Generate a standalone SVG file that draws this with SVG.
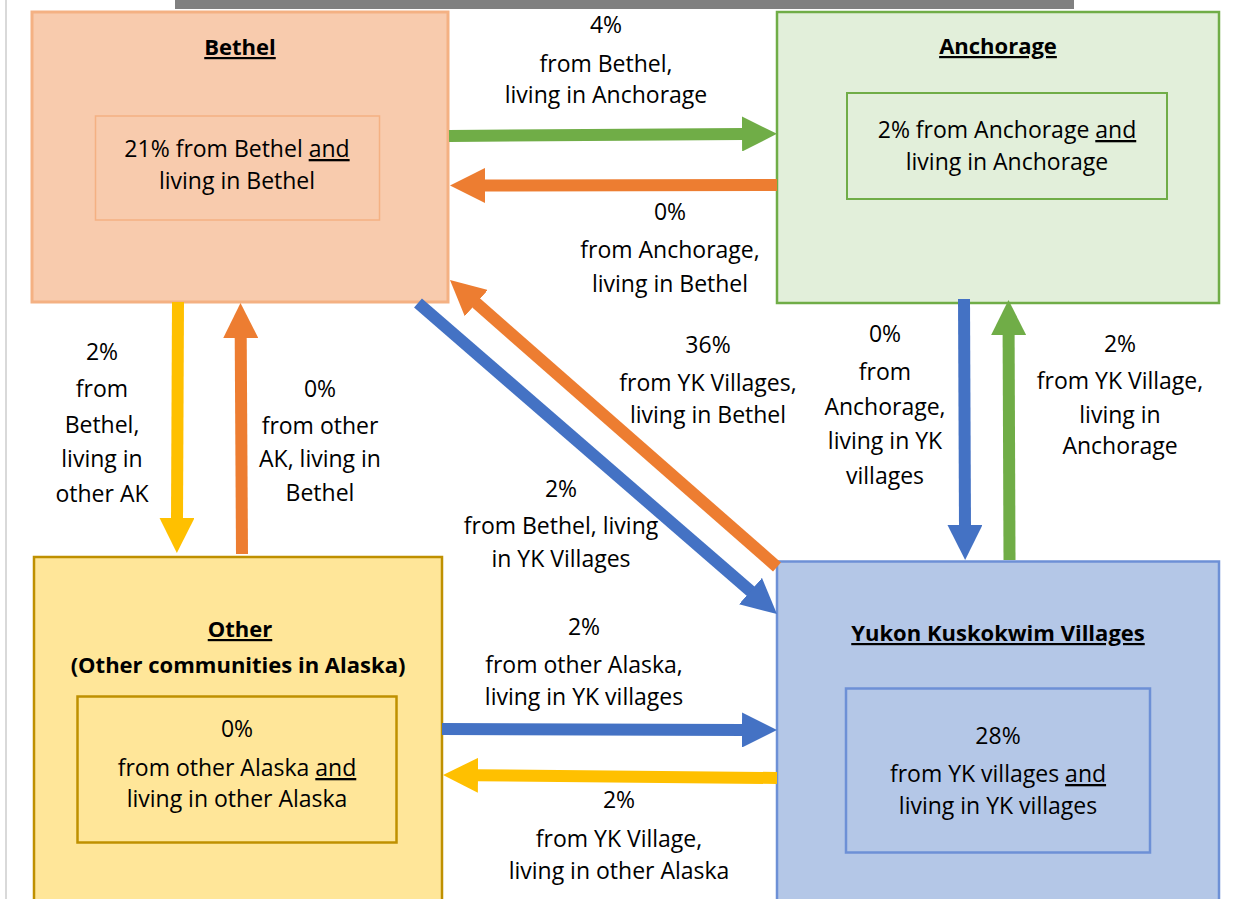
<svg xmlns="http://www.w3.org/2000/svg" width="1243" height="899" viewBox="0 0 1243 899">
<style>
text{font-family:"Open Sans","Noto Sans",sans-serif;font-size:23px;fill:#000;text-anchor:middle}
.t{font-weight:bold;font-size:22px}
.u{text-decoration:underline}
.c{fill:none;stroke-width:12}
</style>
<defs>
<marker id="hg" markerUnits="userSpaceOnUse" markerWidth="35" markerHeight="35" refX="2" refY="17.5" orient="auto" viewBox="0 0 35 35"><path d="M0,0 L35,17.5 L0,35 z" fill="#70ad47"/></marker>
<marker id="ho" markerUnits="userSpaceOnUse" markerWidth="35" markerHeight="35" refX="2" refY="17.5" orient="auto" viewBox="0 0 35 35"><path d="M0,0 L35,17.5 L0,35 z" fill="#ed7d31"/></marker>
<marker id="hb" markerUnits="userSpaceOnUse" markerWidth="35" markerHeight="35" refX="2" refY="17.5" orient="auto" viewBox="0 0 35 35"><path d="M0,0 L35,17.5 L0,35 z" fill="#4472c4"/></marker>
<marker id="hy" markerUnits="userSpaceOnUse" markerWidth="35" markerHeight="35" refX="2" refY="17.5" orient="auto" viewBox="0 0 35 35"><path d="M0,0 L35,17.5 L0,35 z" fill="#ffc000"/></marker>
</defs>
<rect width="1243" height="899" fill="#fff"/>
<line x1="6" y1="0" x2="6" y2="899" stroke="#d9d9d9" stroke-width="2"/>
<rect x="175" y="0" width="899" height="9" fill="#808080"/>

<g id="bethel">
<rect x="32" y="12" width="416" height="290" fill="#f8cbad" stroke="#f4b183" stroke-width="3"/>
<rect x="95.5" y="116" width="284" height="104" fill="none" stroke="#f4b183" stroke-width="1.5"/>
<text class="t u" x="240" y="55">Bethel</text>
<text x="237" y="157">21% from Bethel <tspan class="u">and</tspan></text>
<text x="237" y="189">living in Bethel</text>
</g>

<g id="anchorage">
<rect x="777" y="12" width="442" height="291" fill="#e2efda" stroke="#70ad47" stroke-width="2.5"/>
<rect x="847" y="93" width="320" height="106" fill="none" stroke="#70ad47" stroke-width="2"/>
<text class="t u" x="998" y="54">Anchorage</text>
<text x="1007" y="138">2% from Anchorage <tspan class="u">and</tspan></text>
<text x="1007" y="170">living in Anchorage</text>
</g>

<g id="other">
<rect x="34" y="557" width="408" height="350" fill="#ffe699" stroke="#bf9000" stroke-width="2.5"/>
<rect x="77.5" y="696.5" width="319" height="146" fill="none" stroke="#bf9000" stroke-width="2.5"/>
<text class="t u" x="240" y="637">Other</text>
<text class="t" x="238" y="673">(Other communities in Alaska)</text>
<text x="237" y="737">0%</text>
<text x="237" y="776">from other Alaska <tspan class="u">and</tspan></text>
<text x="237" y="807">living in other Alaska</text>
</g>

<g id="yk">
<rect x="777" y="561.5" width="442" height="350" fill="#b4c7e7" stroke="#6d90d6" stroke-width="2.5"/>
<rect x="846" y="688.5" width="304" height="164" fill="none" stroke="#6d90d6" stroke-width="2.5"/>
<text class="t u" x="998" y="641">Yukon Kuskokwim Villages</text>
<text x="998" y="744">28%</text>
<text x="998" y="782">from YK villages <tspan class="u">and</tspan></text>
<text x="998" y="814">living in YK villages</text>
</g>

<g id="connectors">
<line class="c" x1="449" y1="136" x2="744" y2="134" stroke="#70ad47" marker-end="url(#hg)"/>
<line class="c" x1="777" y1="185" x2="483" y2="185.5" stroke="#ed7d31" marker-end="url(#ho)"/>
<line class="c" x1="178" y1="302" x2="177" y2="520" stroke="#ffc000" marker-end="url(#hy)"/>
<line class="c" x1="242" y1="554" x2="240.7" y2="336" stroke="#ed7d31" marker-end="url(#ho)"/>
<line class="c" x1="418" y1="303" x2="752" y2="592.4" stroke="#4472c4" marker-end="url(#hb)"/>
<line class="c" x1="777" y1="567" x2="474.8" y2="301.8" stroke="#ed7d31" marker-end="url(#ho)"/>
<line class="c" x1="964" y1="299" x2="965" y2="527" stroke="#4472c4" marker-end="url(#hb)"/>
<line class="c" x1="1009.5" y1="560" x2="1008.6" y2="333" stroke="#70ad47" marker-end="url(#hg)"/>
<line class="c" x1="442" y1="729" x2="744" y2="730" stroke="#4472c4" marker-end="url(#hb)"/>
<line class="c" x1="777" y1="778" x2="476" y2="775.3" stroke="#ffc000" marker-end="url(#hy)"/>
</g>

<g id="labels">
<text x="606" y="33">4%</text>
<text x="606" y="72">from Bethel,</text>
<text x="606" y="103">living in Anchorage</text>
<text x="670" y="220">0%</text>
<text x="670" y="258">from Anchorage,</text>
<text x="670" y="292">living in Bethel</text>
<text x="102" y="360">2%</text>
<text x="102" y="397">from</text>
<text x="102" y="433">Bethel,</text>
<text x="102" y="467">living in</text>
<text x="102" y="502">other AK</text>
<text x="320" y="397">0%</text>
<text x="320" y="434">from other</text>
<text x="320" y="467">AK, living in</text>
<text x="320" y="501">Bethel</text>
<text x="708" y="353">36%</text>
<text x="708" y="391">from YK Villages,</text>
<text x="708" y="423">living in Bethel</text>
<text x="561" y="497">2%</text>
<text x="561" y="534">from Bethel, living</text>
<text x="561" y="567">in YK Villages</text>
<text x="885" y="342">0%</text>
<text x="885" y="380">from</text>
<text x="885" y="415">Anchorage,</text>
<text x="885" y="449">living in YK</text>
<text x="885" y="484">villages</text>
<text x="1120" y="352">2%</text>
<text x="1120" y="389">from YK Village,</text>
<text x="1120" y="423">living in</text>
<text x="1120" y="454">Anchorage</text>
<text x="584" y="635">2%</text>
<text x="584" y="673">from other Alaska,</text>
<text x="584" y="705">living in YK villages</text>
<text x="619" y="808">2%</text>
<text x="619" y="847">from YK Village,</text>
<text x="619" y="879">living in other Alaska</text>
</g>
</svg>
